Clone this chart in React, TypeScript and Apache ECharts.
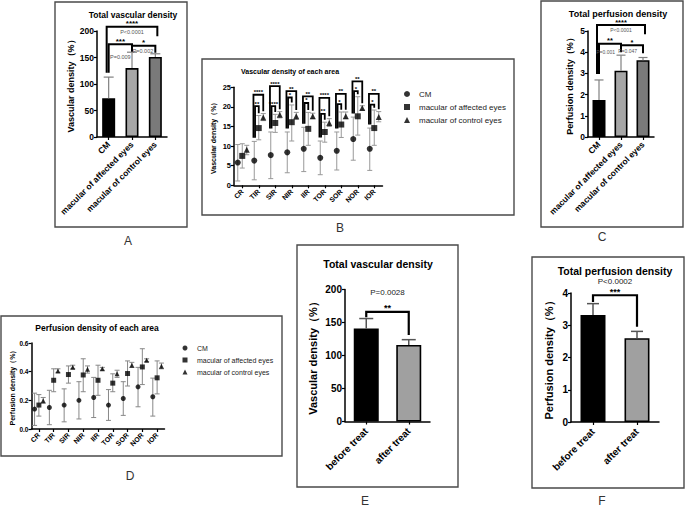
import React, { useEffect, useRef } from "react";
import * as echarts from "echarts";

const FONT = "'Liberation Sans', Arial, Helvetica, sans-serif";

// ---------- Panel A : Total vascular density ----------
const groupCats = ["CM", "macular of affected eyes", "macular of control eyes"];
const aMean = [73, 130, 151];
const aSD = [40, 30, 6];
const aBrackets = [
  { from: 0, to: 2, top: 208, leftEnd: 121, rightEnd: 190, stars: "****" },
  { from: 0, to: 1, top: 175, leftEnd: 121, rightEnd: 164, stars: "***" },
  { from: 1, to: 2, top: 172, leftEnd: 161, rightEnd: 159, stars: "*" },
];
const aPValues = [
  { x: 1, y: 199, text: "P<0.0001" },
  { x: 0.5, y: 151, text: "P=0.009" },
  { x: 1.47, y: 163, text: "P=0.002" },
];

// ---------- Panel B : Vascular density of each area ----------
const areaCats = ["CR", "TIR", "SIR", "NIR", "IIR", "TOR", "SOR", "NOR", "IOR"];
const bCM = [5.8, 6.3, 7.7, 8.4, 9.3, 7.0, 8.8, 11.8, 9.3];
const bCMLo = [1.1, 1.4, 1.7, 3.2, 3.5, 2.7, 3.9, 6.4, 3.8];
const bCMHi = [10.4, 11.2, 13.6, 13.6, 14.8, 11.3, 13.6, 17.4, 14.6];
const bAff = [7.5, 14.6, 15.9, 16.1, 14.4, 13.6, 15.5, 17.6, 14.6];
const bAffLo = [4.4, 11.6, 13.5, 11.3, 10.2, 11.0, 12.2, 12.8, 10.2];
const bAffHi = [10.6, 17.8, 18.1, 20.5, 18.6, 16.1, 18.7, 22.6, 19.2];
const bCtl = [9.1, 17.3, 18.0, 17.6, 17.6, 15.9, 17.6, 19.7, 17.4];
const bCtlLo = [7.8, 16.5, 17.2, 16.8, 17.0, 15.0, 17.0, 19.2, 16.2];
const bCtlHi = [10.2, 18.3, 18.8, 18.6, 18.4, 17.0, 18.7, 20.3, 18.8];
const bBracketCats = [1, 2, 3, 4, 5, 6, 7, 8];
const bOuterTop = [23.1, 25.3, 24.0, 22.7, 22.3, 23.3, 26.5, 23.3];
const bOuterStars = ["****", "****", "**", "**", "****", "**", "**", "**"];
const bInnerTop = [20.2, 20.2, 22.4, 21.0, 18.2, 20.7, 24.0, 20.6];
const bInnerStars = ["**", "****", "*", "*", "**", "*", "*", "*"];

// ---------- Panel C : Total perfusion density ----------
const cMean = [1.75, 3.13, 3.62];
const cSD = [0.94, 0.73, 0.13];
const cBrackets = [
  { from: 0, to: 2, top: 5.28, leftEnd: 2.97, rightEnd: 4.85, stars: "****" },
  { from: 0, to: 1, top: 4.4, leftEnd: 2.97, rightEnd: 4.1, stars: "**" },
  { from: 1, to: 2, top: 4.33, leftEnd: 4.0, rightEnd: 3.95, stars: "*" },
];
const cPValues = [
  { x: 1, y: 5.05, text: "P<0.0001" },
  { x: 0.3, y: 4.0, text: "P=0.001" },
  { x: 1.3, y: 4.05, text: "P=0.047" },
];

// ---------- Panel D : Perfusion density of each area ----------
const dCM = [0.139, 0.15, 0.167, 0.2, 0.22, 0.167, 0.213, 0.294, 0.225];
const dCMLo = [0.025, 0.03, 0.05, 0.07, 0.08, 0.06, 0.095, 0.155, 0.09];
const dCMHi = [0.25, 0.27, 0.28, 0.33, 0.36, 0.275, 0.33, 0.43, 0.355];
const dAff = [0.167, 0.34, 0.38, 0.377, 0.34, 0.32, 0.387, 0.433, 0.357];
const dAffLo = [0.09, 0.26, 0.32, 0.26, 0.235, 0.26, 0.3, 0.31, 0.245];
const dAffHi = [0.24, 0.42, 0.44, 0.49, 0.445, 0.385, 0.475, 0.56, 0.475];
const dCtl = [0.197, 0.405, 0.43, 0.417, 0.42, 0.385, 0.444, 0.48, 0.437];
const dCtlLo = [0.18, 0.395, 0.42, 0.39, 0.41, 0.36, 0.43, 0.47, 0.42];
const dCtlHi = [0.22, 0.42, 0.445, 0.44, 0.43, 0.41, 0.465, 0.49, 0.46];

// ---------- Panels E / F : before vs after treatment ----------
const treatCats = ["before treat", "after treat"];
const eMean = [141, 116];
const eSD = [15, 8];
const eBrackets = [{ from: 0, to: 1, top: 166, leftEnd: 158, rightEnd: 131, stars: "**" }];
const ePValues = [{ x: 0.5, y: 196, text: "P=0.0028" }];
const fMean = [3.32, 2.6];
const fSD = [0.35, 0.21];
const fBrackets = [{ from: 0, to: 1, top: 3.93, leftEnd: 3.72, rightEnd: 2.95, stars: "***" }];
const fPValues = [{ x: 0.5, y: 4.36, text: "P<0.0002" }];

const legendNames = ["CM", "macular of affected eyes", "macular of control eyes"];

// ---------- styles ----------
const threeColors = ["#000000", "#a6a6a6", "#7a7a7a"];
const twoColors = ["#000000", "#a0a0a0"];
const seriesShiftB = [-4.5, 0, 4.5];
const seriesShiftD = [-4.3, 0, 4.3];

function txt(x: number, y: number, text: string, size: number, weight: string, color: string, align = "center", valign = "middle") {
  return {
    type: "text",
    x,
    y,
    style: {
      text,
      fontSize: size,
      fontWeight: weight,
      fontFamily: FONT,
      fill: color,
      align,
      verticalAlign: valign,
      textAlign: align,
      textVerticalAlign: valign,
    },
  };
}

function ln(x1: number, y1: number, x2: number, y2: number, color: string, lw: number) {
  return { type: "line", shape: { x1, y1, x2, y2 }, style: { stroke: color, lineWidth: lw } };
}

function barErr(capHalf: number, color: string, lw: number) {
  return (params: any, api: any) => {
    const c = api.value(0);
    const lo = api.coord([c, api.value(1)]);
    const hi = api.coord([c, api.value(2)]);
    return {
      type: "group",
      children: [ln(lo[0], lo[1], hi[0], hi[1], color, lw), ln(hi[0] - capHalf, hi[1], hi[0] + capHalf, hi[1], color, lw)],
    };
  };
}

function rangeErr(shift: number, capHalf: number, color: string, lw: number) {
  return (params: any, api: any) => {
    const c = api.value(0);
    const lo = api.coord([c, api.value(1)]);
    const hi = api.coord([c, api.value(2)]);
    const x = lo[0] + shift;
    return {
      type: "group",
      children: [
        ln(x, lo[1], x, hi[1], color, lw),
        ln(x - capHalf, lo[1], x + capHalf, lo[1], color, lw),
        ln(x - capHalf, hi[1], x + capHalf, hi[1], color, lw),
      ],
    };
  };
}

function barBracket(list: any[], outerShift: number, lw: number, starSize: number) {
  return (params: any, api: any) => {
    const b = list[params.dataIndex];
    const wide = b.to - b.from > 1;
    const xL = api.coord([b.from, 0])[0] - (wide ? outerShift : 0);
    const xR = api.coord([b.to, 0])[0] + (wide ? outerShift : 0);
    const yT = api.coord([b.from, b.top])[1];
    const yL = api.coord([b.from, b.leftEnd])[1];
    const yR = api.coord([b.to, b.rightEnd])[1];
    return {
      type: "group",
      children: [
        {
          type: "polyline",
          shape: { points: [[xL, yL], [xL, yT], [xR, yT], [xR, yR]] },
          style: { stroke: "#000", lineWidth: lw, fill: "none" },
        },
        txt((xL + xR) / 2, yT - starSize * 0.4, b.stars, starSize, "bold", "#000"),
      ],
    };
  };
}

function pText(list: any[], size: number, color: string) {
  return (params: any, api: any) => {
    const p = list[params.dataIndex];
    const i0 = Math.floor(p.x);
    const f = p.x - i0;
    const a = api.coord([i0, p.y]);
    const b = api.coord([i0 + 1, p.y]);
    return txt(a[0] + (b[0] - a[0]) * f, a[1], p.text, size, "normal", color);
  };
}

function areaBracket(tops: number[], stars: string[], toSeries: number, leftShift: number, rightHi: number[]) {
  return (params: any, api: any) => {
    const i = params.dataIndex;
    const c = bBracketCats[i];
    const base = api.coord([c, 0])[0];
    const xL = base + seriesShiftB[0] + leftShift;
    const xR = base + seriesShiftB[toSeries];
    const yT = api.coord([c, tops[i]])[1];
    const yL = api.coord([c, bCMHi[c] + 0.9])[1];
    const yR = api.coord([c, rightHi[c] + 0.6])[1];
    return {
      type: "group",
      children: [
        {
          type: "polyline",
          shape: { points: [[xL, yL], [xL, yT], [xR, yT], [xR, yR]] },
          style: { stroke: "#000", lineWidth: 1.8, fill: "none" },
        },
        txt((xL + xR) / 2, yT - 2.6, stars[i], 6, "bold", "#000"),
      ],
    };
  };
}

function catAxis(gi: number, data: string[], fontSize: number, margin: number) {
  return {
    type: "category",
    gridIndex: gi,
    data,
    axisLine: { show: true, lineStyle: { color: "#000", width: 1.5 } },
    axisTick: { show: true, alignWithLabel: true, length: 3, lineStyle: { color: "#000", width: 1.2 } },
    axisLabel: { interval: 0, rotate: 45, fontSize, fontWeight: "bold", fontFamily: FONT, color: "#000", margin },
    splitLine: { show: false },
  };
}

function valAxis(gi: number, max: number, interval: number, fontSize: number, name: string, nameSize: number, nameGap: number, decimals = 0) {
  return {
    type: "value",
    gridIndex: gi,
    min: 0,
    max,
    interval,
    name,
    nameLocation: "middle",
    nameRotate: 90,
    nameGap,
    nameTextStyle: { fontSize: nameSize, fontWeight: "bold", fontFamily: FONT, color: "#000" },
    axisLine: { show: true, lineStyle: { color: "#000", width: 1.5 } },
    axisTick: { show: true, length: 3, lineStyle: { color: "#000", width: 1.2 } },
    axisLabel: {
      fontSize,
      fontWeight: "bold",
      fontFamily: FONT,
      color: "#000",
      margin: 3,
      formatter: (v: number) => v.toFixed(decimals),
    },
    splitLine: { show: false },
  };
}

function pointSeries(gi: number, name: string, vals: number[], symbol: string, size: number, shift: number) {
  return {
    type: "scatter",
    name,
    xAxisIndex: gi,
    yAxisIndex: gi,
    data: vals.map((v, i) => [i, v]),
    symbol,
    symbolSize: size,
    symbolOffset: [shift, 0],
    itemStyle: { color: "#000" },
    z: 5,
  };
}

function errSeries(gi: number, lo: number[], hi: number[], renderItem: any) {
  return {
    type: "custom",
    xAxisIndex: gi,
    yAxisIndex: gi,
    data: lo.map((l, i) => [i, l, hi[i]]),
    renderItem,
    clip: false,
    silent: true,
    z: 3,
  };
}

function barSeries(gi: number, vals: number[], colors: string[], width: number) {
  return {
    type: "bar",
    xAxisIndex: gi,
    yAxisIndex: gi,
    data: vals.map((v, i) => ({ value: v, itemStyle: { color: colors[i] } })),
    barWidth: width,
    itemStyle: { borderColor: "#000", borderWidth: 1.6 },
    z: 2,
  };
}

function annoSeries(gi: number, n: number, renderItem: any) {
  const data: number[][] = [];
  for (let i = 0; i < n; i++) data.push([0, 0]);
  return { type: "custom", xAxisIndex: gi, yAxisIndex: gi, data, renderItem, clip: false, silent: true, z: 6 };
}

function box(x: number, y: number, w: number, h: number) {
  return { type: "rect", shape: { x, y, width: w, height: h }, style: { fill: "none", stroke: "#4a4a4a", lineWidth: 1.4 }, z: 0 };
}

function gtext(x: number, y: number, text: string, size: number, weight: string, color = "#000") {
  return {
    type: "text",
    x,
    y,
    z: 10,
    style: {
      text,
      fontSize: size,
      fontWeight: weight,
      fontFamily: FONT,
      fill: color,
      align: "center",
      verticalAlign: "middle",
      textAlign: "center",
      textVerticalAlign: "middle",
    },
  };
}

function buildOption() {
  return {
    animation: false,
    backgroundColor: "#ffffff",
    grid: [
      { left: 97, top: 31, width: 70, height: 106 },
      { left: 234, top: 87.3, width: 148.5, height: 98 },
      { left: 588, top: 31, width: 66, height: 106 },
      { left: 31.5, top: 343, width: 133, height: 86 },
      { left: 345, top: 289.5, width: 85, height: 132 },
      { left: 571, top: 293, width: 88, height: 129 },
    ],
    xAxis: [
      catAxis(0, groupCats, 8.5, 6),
      catAxis(1, areaCats, 7, 5),
      catAxis(2, groupCats, 8.5, 6),
      catAxis(3, areaCats, 7, 5),
      catAxis(4, treatCats, 10, 8),
      catAxis(5, treatCats, 10, 8),
    ],
    yAxis: [
      valAxis(0, 200, 50, 8.5, "Vascular density（%）", 9, 20),
      valAxis(1, 25, 5, 7.5, "Vascular density（%）", 7, 17),
      valAxis(2, 5, 1, 8.5, "Perfusion density（%）", 9, 14),
      valAxis(3, 0.6, 0.2, 6.5, "Perfusion density（%）", 7, 15, 1),
      valAxis(4, 200, 50, 10, "Vascular density（%）", 11, 27),
      valAxis(5, 4, 1, 10, "Perfusion density（%）", 11, 17),
    ],
    legend: [
      {
        data: legendNames,
        orient: "vertical",
        left: 404,
        top: 90,
        padding: 0,
        itemWidth: 6,
        itemHeight: 6,
        itemGap: 5,
        selectedMode: false,
        textStyle: { fontSize: 8, fontFamily: FONT, color: "#222", lineHeight: 8, padding: [0, 0, 0, 4] },
      },
      {
        data: legendNames,
        orient: "vertical",
        left: 182.5,
        top: 344.5,
        padding: 0,
        itemWidth: 5,
        itemHeight: 5,
        itemGap: 5,
        selectedMode: false,
        textStyle: { fontSize: 7, fontFamily: FONT, color: "#222", lineHeight: 7, padding: [0, 0, 0, 4.5] },
      },
    ],
    graphic: [
      box(55, 2, 132, 225),
      box(202, 59, 312, 156),
      box(541, 1, 142, 226),
      box(1, 316, 281, 140),
      box(297, 245, 161, 242),
      box(532, 257, 152, 231),
      gtext(133, 15, "Total vascular density", 8.5, "bold"),
      gtext(290, 71, "Vascular density of each area", 7, "bold"),
      gtext(618, 14, "Total perfusion density", 9, "bold"),
      gtext(97, 328, "Perfusion density of each area", 8.5, "bold"),
      gtext(378, 264, "Total vascular density", 10.5, "bold"),
      gtext(615, 271, "Total perfusion density", 10.5, "bold"),
      gtext(128, 241, "A", 12, "normal", "#333"),
      gtext(340, 228, "B", 12, "normal", "#333"),
      gtext(602, 237, "C", 12, "normal", "#333"),
      gtext(130, 476, "D", 12, "normal", "#333"),
      gtext(365, 501, "E", 12, "normal", "#333"),
      gtext(602, 501, "F", 12, "normal", "#333"),
    ],
    series: [
      // A
      barSeries(0, aMean, threeColors, 13),
      errSeries(0, aMean, aMean.map((m, i) => m + aSD[i]), barErr(5, "#808080", 1.2)),
      annoSeries(0, aBrackets.length, barBracket(aBrackets, 2, 2, 8)),
      annoSeries(0, aPValues.length, pText(aPValues, 5.5, "#555")),
      // B
      pointSeries(1, "CM", bCM, "circle", 6, seriesShiftB[0]),
      pointSeries(1, "macular of affected eyes", bAff, "rect", 6, seriesShiftB[1]),
      pointSeries(1, "macular of control eyes", bCtl, "triangle", 6, seriesShiftB[2]),
      errSeries(1, bCMLo, bCMHi, rangeErr(seriesShiftB[0], 2.5, "#999", 1)),
      errSeries(1, bAffLo, bAffHi, rangeErr(seriesShiftB[1], 2.5, "#999", 1)),
      errSeries(1, bCtlLo, bCtlHi, rangeErr(seriesShiftB[2], 2.5, "#999", 1)),
      annoSeries(1, bBracketCats.length, areaBracket(bOuterTop, bOuterStars, 2, -0.8, bCtlHi)),
      annoSeries(1, bBracketCats.length, areaBracket(bInnerTop, bInnerStars, 1, 0.8, bAffHi)),
      // C
      barSeries(2, cMean, threeColors, 13),
      errSeries(2, cMean, cMean.map((m, i) => m + cSD[i]), barErr(4.5, "#808080", 1.2)),
      annoSeries(2, cBrackets.length, barBracket(cBrackets, 2, 2, 7.5)),
      annoSeries(2, cPValues.length, pText(cPValues, 5, "#555")),
      // D
      pointSeries(3, "CM", dCM, "circle", 5, seriesShiftD[0]),
      pointSeries(3, "macular of affected eyes", dAff, "rect", 5, seriesShiftD[1]),
      pointSeries(3, "macular of control eyes", dCtl, "triangle", 5, seriesShiftD[2]),
      errSeries(3, dCMLo, dCMHi, rangeErr(seriesShiftD[0], 2.5, "#888", 1)),
      errSeries(3, dAffLo, dAffHi, rangeErr(seriesShiftD[1], 2.5, "#888", 1)),
      errSeries(3, dCtlLo, dCtlHi, rangeErr(seriesShiftD[2], 2.5, "#888", 1)),
      // E
      barSeries(4, eMean, twoColors, 25),
      errSeries(4, eMean, eMean.map((m, i) => m + eSD[i]), barErr(7, "#555", 1.5)),
      annoSeries(4, eBrackets.length, barBracket(eBrackets, 0, 2.2, 9)),
      annoSeries(4, ePValues.length, pText(ePValues, 8, "#222")),
      // F
      barSeries(5, fMean, twoColors, 25),
      errSeries(5, fMean, fMean.map((m, i) => m + fSD[i]), barErr(6, "#555", 1.5)),
      annoSeries(5, fBrackets.length, barBracket(fBrackets, 0, 2.2, 9)),
      annoSeries(5, fPValues.length, pText(fPValues, 8, "#222")),
    ],
  };
}

export default function App() {
  const ref = useRef<HTMLDivElement>(null);
  useEffect(() => {
    if (!ref.current) return;
    const chart = echarts.init(ref.current, null, { renderer: "svg" });
    chart.setOption(buildOption() as any);
    return () => chart.dispose();
  }, []);
  return (
    <div
      ref={ref}
      style={{ position: "fixed", left: 0, top: 0, width: 685, height: 509, background: "#fff" }}
    />
  );
}
